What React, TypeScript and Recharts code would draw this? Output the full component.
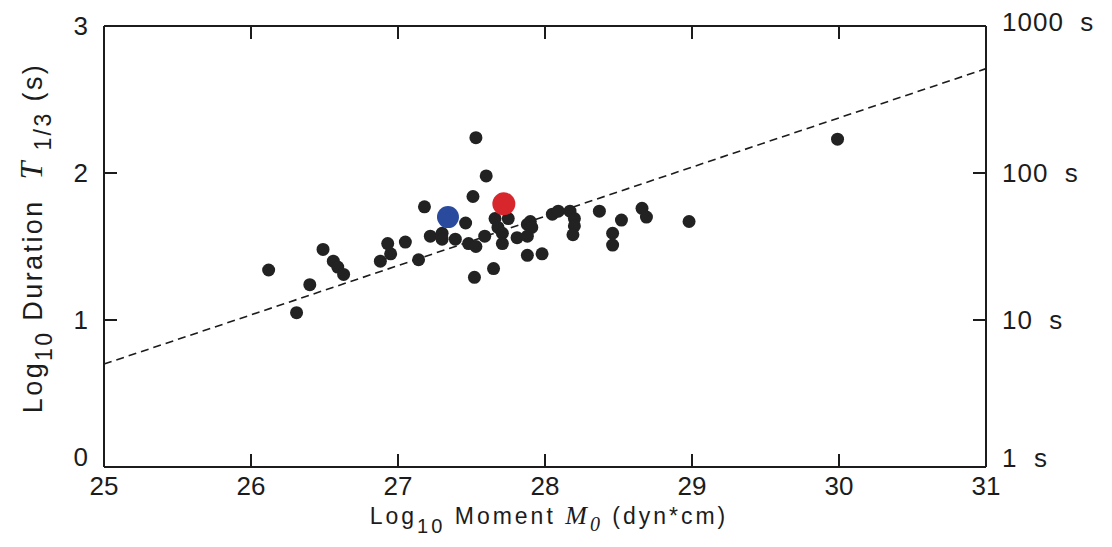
import {
  ScatterChart,
  Scatter,
  XAxis,
  YAxis,
  ReferenceLine,
} from 'recharts';

// log10 moment (dyn*cm) and log10 duration (s) of the events
const eventMoments = [
  26.12, 26.31, 26.40, 26.49, 26.56, 26.59, 26.63, 26.88, 26.93, 26.95,
  27.05, 27.14, 27.18, 27.22, 27.30, 27.30, 27.39, 27.46, 27.48, 27.53,
  27.51, 27.53, 27.60, 27.59, 27.52, 27.65, 27.66, 27.68, 27.71, 27.71,
  27.75, 27.81, 27.88, 27.90, 27.91, 27.88, 27.88, 27.98, 28.05, 28.09,
  28.17, 28.20, 28.20, 28.19, 28.37, 28.52, 28.46, 28.46, 28.66, 28.69,
  28.98, 29.99,
];
const eventDurations = [
  1.34, 1.05, 1.24, 1.48, 1.40, 1.36, 1.31, 1.40, 1.52, 1.45,
  1.53, 1.41, 1.77, 1.57, 1.59, 1.55, 1.55, 1.66, 1.52, 1.50,
  1.84, 2.24, 1.98, 1.57, 1.29, 1.35, 1.69, 1.63, 1.59, 1.52,
  1.69, 1.56, 1.65, 1.67, 1.63, 1.57, 1.44, 1.45, 1.72, 1.74,
  1.74, 1.69, 1.64, 1.58, 1.74, 1.68, 1.59, 1.51, 1.76, 1.70,
  1.67, 2.23,
];

// the two highlighted events
const blueEvent = [{ x: 27.34, y: 1.70 }];
const redEvent = [{ x: 27.72, y: 1.79 }];

// dashed scaling line end points
const fitLine = [
  { x: 25, y: 0.7 },
  { x: 31, y: 2.71 },
];

const xTicks = [25, 26, 27, 28, 29, 30, 31];
const yTicks = [0, 1, 2, 3];
const rightTickLabels = ['1 s', '10 s', '100 s', '1000 s'];

const events = eventMoments.map((x, i) => ({ x, y: eventDurations[i] }));

const FONT = '"Liberation Sans", Arial, sans-serif';
const SERIF = '"Liberation Serif", serif';
const INK = '#1c1c1c';
const TICK = 13;

const dot = (r: number, fill: string) => (props: any) =>
  <circle cx={props.cx} cy={props.cy} r={r} fill={fill} />;

// tick marks point into the plot, labels sit outside
function BottomTick(props: any) {
  const { x, y, payload } = props;
  const axisY = Number(y) - 18;
  return (
    <g>
      <path d={`M${x},${axisY}V${axisY - TICK}`} stroke={INK} strokeWidth={2} fill="none" />
      <text x={x} y={y} dy={10} textAnchor="middle" fontSize={26} fill={INK} fontFamily={FONT}>
        {payload.value}
      </text>
    </g>
  );
}

function TopTick(props: any) {
  const { x, y } = props;
  return <path d={`M${x},${Number(y)}v${TICK}`} stroke={INK} strokeWidth={2} fill="none" />;
}

function LeftTick(props: any) {
  const { x, y, payload } = props;
  const axisX = Number(x) + 16;
  const shift = payload.value === 0 ? -10 : 0;
  return (
    <g>
      <path d={`M${axisX},${y}h${TICK}`} stroke={INK} strokeWidth={2} fill="none" />
      <text x={x} y={y + shift} dy={9} textAnchor="end" fontSize={26} fill={INK} fontFamily={FONT}>
        {payload.value}
      </text>
    </g>
  );
}

function RightTick(props: any) {
  const { x, y, payload } = props;
  const axisX = Number(x) - 16;
  const shift = payload.value === 0 ? -9 : payload.value === 3 ? -4 : 0;
  return (
    <g>
      <path d={`M${axisX},${y}h${-TICK}`} stroke={INK} strokeWidth={2} fill="none" />
      <text x={x} y={y + shift} dy={9} textAnchor="start" fontSize={26} fill={INK} fontFamily={FONT} letterSpacing={1}>
        {rightTickLabels[payload.value].replace(' ', '\u00A0\u00A0')}
      </text>
    </g>
  );
}

function XTitle(props: any) {
  const vb = props.viewBox;
  const cx = vb.x + vb.width / 2 + 4;
  return (
    <text x={cx} y={vb.y + 57} textAnchor="middle" fontSize={23} fill={INK} fontFamily={FONT} letterSpacing={3}>
      Log
      <tspan dy={9} fontSize={20}>10</tspan>
      <tspan dy={-9}>{'\u00A0Moment\u00A0'}</tspan>
      <tspan fontFamily={SERIF} fontStyle="italic" fontSize={26}>M</tspan>
      <tspan dy={7} fontFamily={SERIF} fontStyle="italic" fontSize={20}>0</tspan>
      <tspan dy={-7}>{'\u00A0(dyn*cm)'}</tspan>
    </text>
  );
}

function YTitle() {
  const x = 42;
  const y = 238;
  return (
    <text x={x} y={y} transform={`rotate(-90, ${x}, ${y})`} textAnchor="middle" fontSize={27} fill={INK} fontFamily={FONT} letterSpacing={2.4}>
      Log
      <tspan dy={10} fontSize={23}>10</tspan>
      <tspan dy={-10}>{'\u00A0Duration\u00A0\u00A0'}</tspan>
      <tspan fontFamily={SERIF} fontStyle="italic" fontSize={32}>T</tspan>
      <tspan dy={9} fontSize={23}>{'\u00A01/3'}</tspan>
      <tspan dy={-9}>{'\u00A0(s)'}</tspan>
    </text>
  );
}

export default function App() {
  return (
    <div style={{ position: 'absolute', left: 0, top: 0, background: '#fff' }}>
      <ScatterChart
        width={1112}
        height={547}
        margin={{ top: 20, right: 16, bottom: 0, left: 44 }}
      >
        <XAxis
          xAxisId="bottom"
          dataKey="x"
          type="number"
          domain={[25, 31]}
          ticks={xTicks}
          height={80}
          stroke={INK}
          strokeWidth={2}
          tickLine={false}
          tickSize={0}
          tickMargin={18}
          tick={<BottomTick />}
          label={<XTitle />}
        />
        <XAxis
          xAxisId="top"
          orientation="top"
          dataKey="x"
          type="number"
          domain={[25, 31]}
          ticks={xTicks}
          height={6}
          stroke={INK}
          strokeWidth={2}
          tickLine={false}
          tickSize={0}
          tickMargin={0}
          tick={<TopTick />}
        />
        <YAxis
          yAxisId="left"
          dataKey="y"
          type="number"
          domain={[0, 3]}
          ticks={yTicks}
          width={60}
          stroke={INK}
          strokeWidth={2}
          tickLine={false}
          tickSize={0}
          tickMargin={16}
          tick={<LeftTick />}
          label={<YTitle />}
        />
        <YAxis
          yAxisId="right"
          orientation="right"
          dataKey="y"
          type="number"
          domain={[0, 3]}
          ticks={yTicks}
          width={110}
          stroke={INK}
          strokeWidth={2}
          tickLine={false}
          tickSize={0}
          tickMargin={16}
          tick={<RightTick />}
        />
        <ReferenceLine
          xAxisId="bottom"
          yAxisId="left"
          segment={fitLine}
          stroke={INK}
          strokeWidth={1.6}
          strokeDasharray="8 5"
        />
        <Scatter
          xAxisId="top"
          yAxisId="right"
          data={fitLine}
          shape={() => null}
          isAnimationActive={false}
        />
        <Scatter
          xAxisId="bottom"
          yAxisId="left"
          data={events}
          shape={dot(6.5, '#222222')}
          isAnimationActive={false}
        />
        <Scatter
          xAxisId="bottom"
          yAxisId="left"
          data={blueEvent}
          shape={dot(11, '#2a4a9e')}
          isAnimationActive={false}
        />
        <Scatter
          xAxisId="bottom"
          yAxisId="left"
          data={redEvent}
          shape={dot(11.5, '#d7262c')}
          isAnimationActive={false}
        />
      </ScatterChart>
    </div>
  );
}
